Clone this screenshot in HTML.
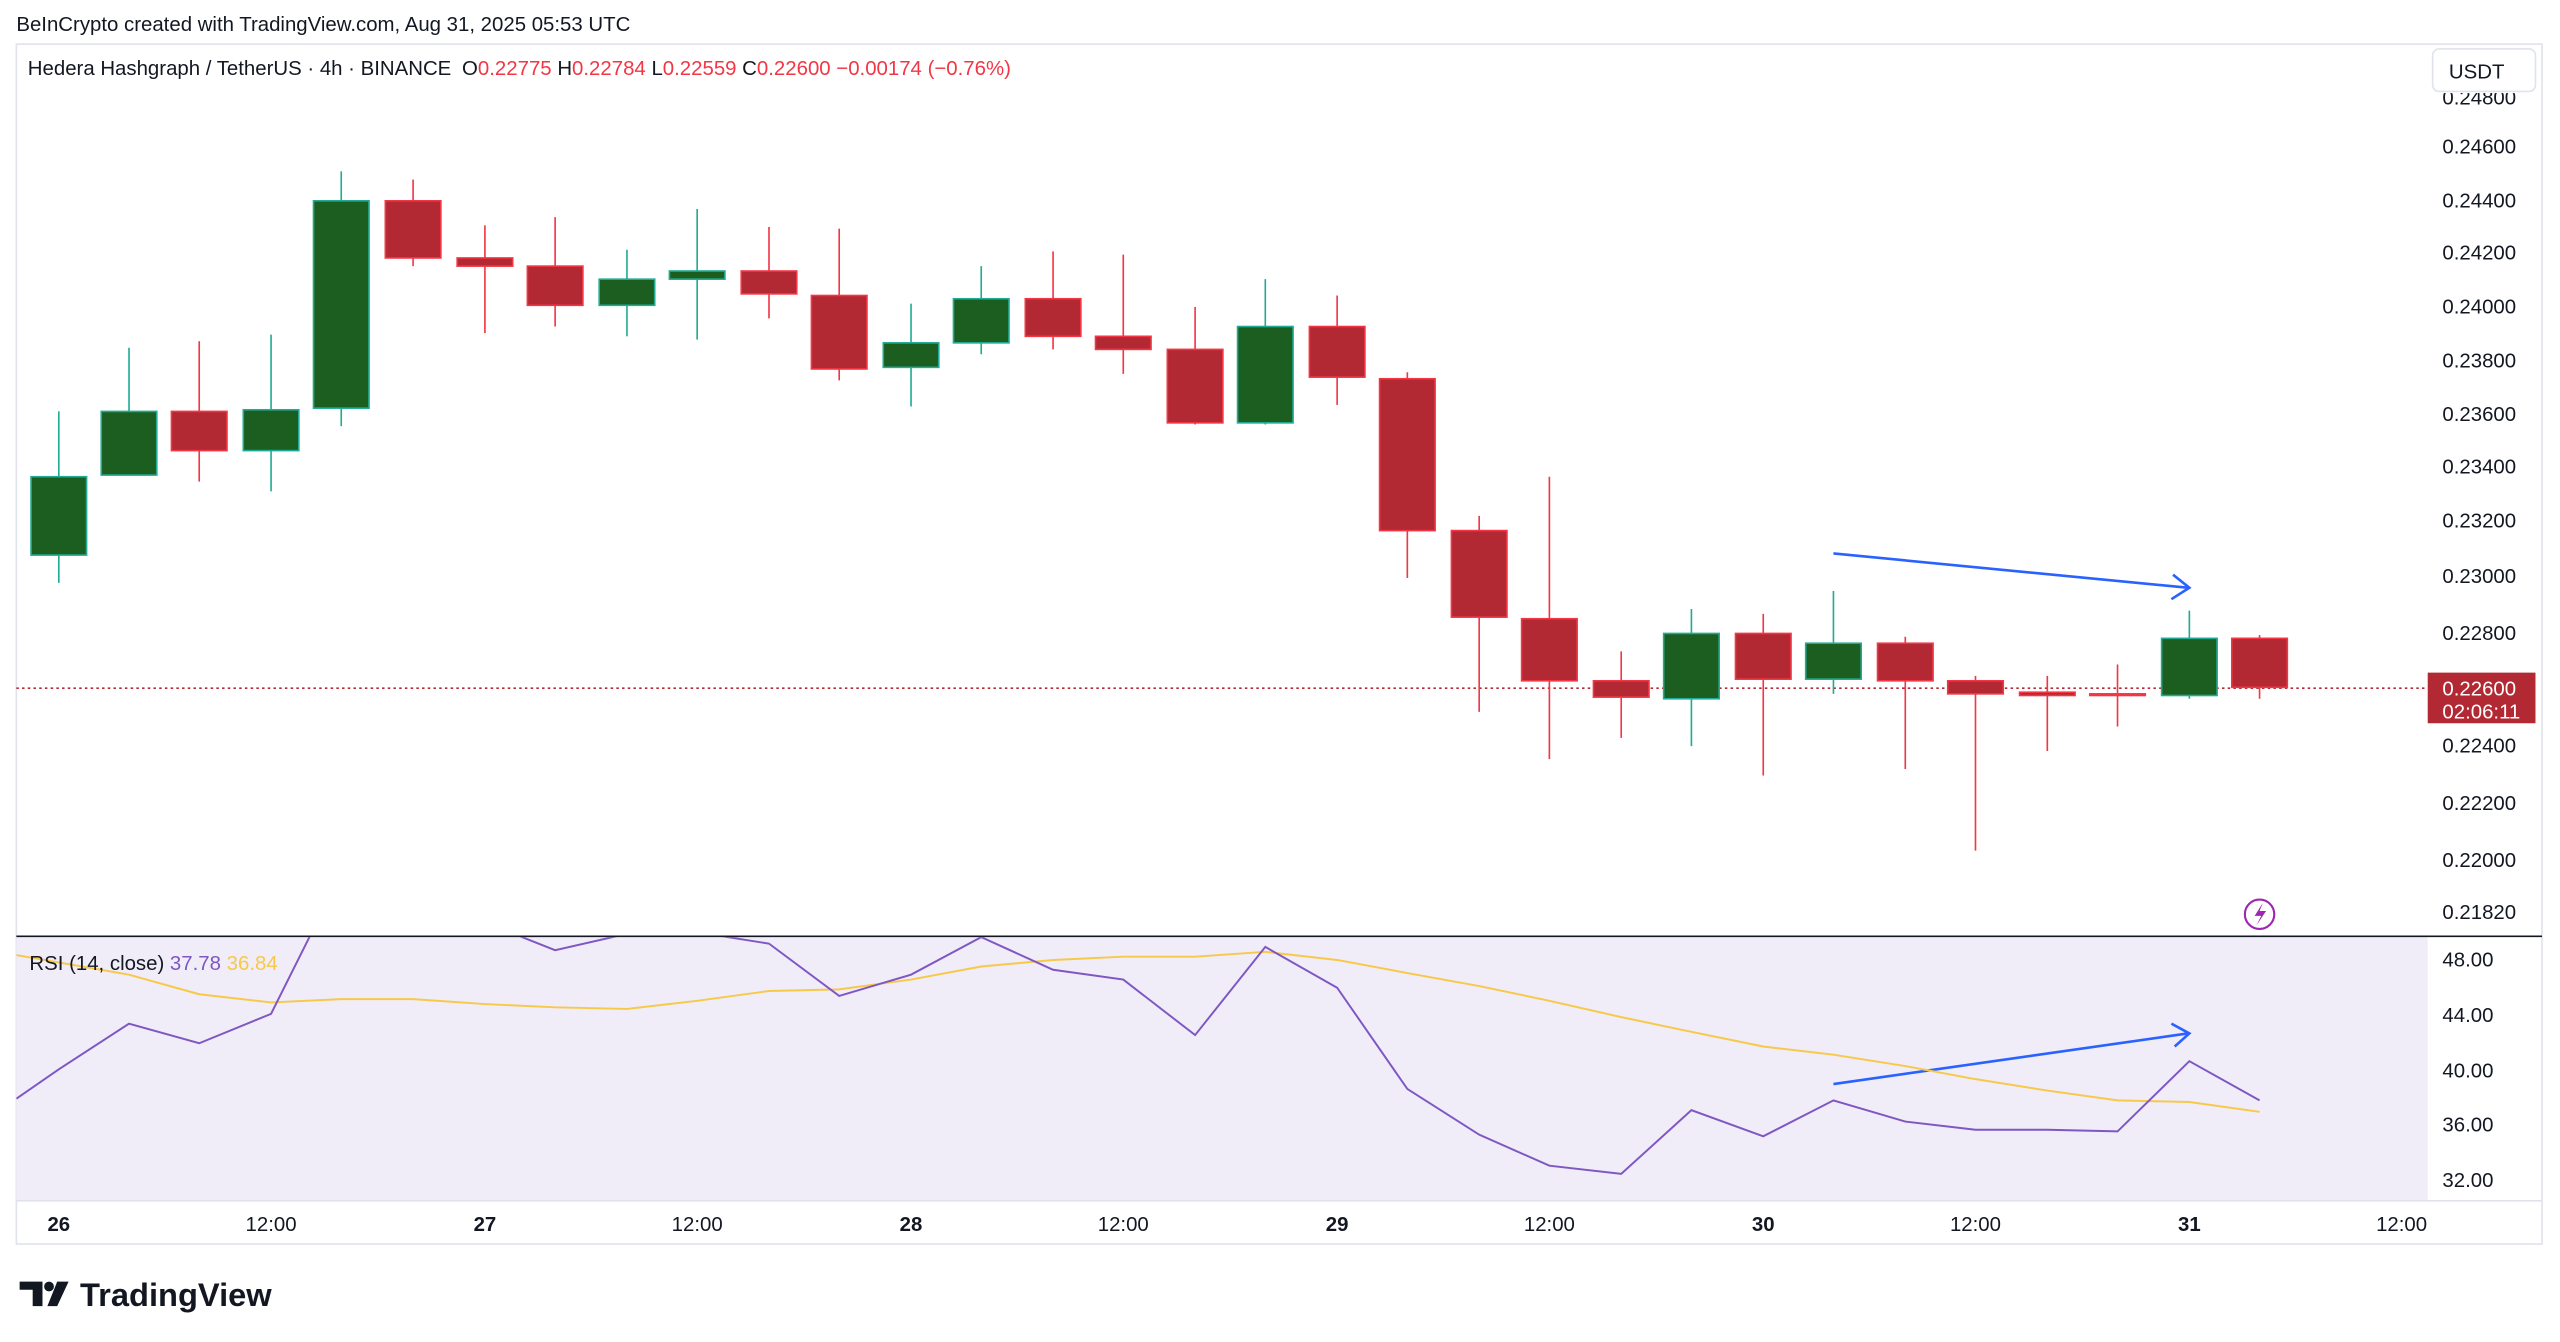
<!DOCTYPE html>
<html><head><meta charset="utf-8"><style>
html,body{margin:0;padding:0;background:#fff;width:2560px;height:1342px;overflow:hidden}
svg{display:block}
text{font-family:"Liberation Sans",sans-serif}
</style></head><body>
<svg width="2560" height="1342" viewBox="0 0 1568 822" xmlns="http://www.w3.org/2000/svg">
<rect width="1568" height="822" fill="#fff"/>
<text x="10" y="19" font-size="12.5" fill="#131722">BeInCrypto created with TradingView.com, Aug 31, 2025 05:53 UTC</text>
<rect x="10" y="27" width="1547" height="735" fill="#fff" stroke="#e0e3eb" stroke-width="1"/>
<rect x="10" y="574" width="1477" height="161" fill="#f0ecf8"/>
<line x1="10" y1="573.5" x2="1557" y2="573.5" stroke="#131722" stroke-width="1"/>
<line x1="10" y1="735.5" x2="1557" y2="735.5" stroke="#e0e3eb" stroke-width="1"/>
<text x="17" y="46" font-size="12.5" fill="#131722">Hedera Hashgraph / TetherUS · 4h · BINANCE</text>
<text x="283" y="46" font-size="12.5" fill="#131722">O<tspan fill="#f23645">0.22775</tspan>  H<tspan fill="#f23645">0.22784</tspan>  L<tspan fill="#f23645">0.22559</tspan>  C<tspan fill="#f23645">0.22600  −0.00174 (−0.76%)</tspan></text>
<g font-size="12.5" fill="#131722">
<text x="1496" y="64">0.24800</text>
</g>
<rect x="1488" y="28" width="68" height="29" fill="#fff"/>
<rect x="1490" y="30" width="63" height="26" rx="4" fill="#fff" stroke="#e0e3eb"/>
<text x="1500" y="48" font-size="12.5" fill="#131722">USDT</text>
<g font-size="12.5" fill="#131722">
<text x="1496" y="94">0.24600</text><text x="1496" y="127">0.24400</text><text x="1496" y="159">0.24200</text>
<text x="1496" y="192">0.24000</text><text x="1496" y="225">0.23800</text><text x="1496" y="258">0.23600</text>
<text x="1496" y="290">0.23400</text><text x="1496" y="323">0.23200</text><text x="1496" y="357">0.23000</text>
<text x="1496" y="392">0.22800</text><text x="1496" y="461">0.22400</text><text x="1496" y="496">0.22200</text>
<text x="1496" y="531">0.22000</text><text x="1496" y="563">0.21820</text>
<text x="1496" y="592">48.00</text><text x="1496" y="626">44.00</text><text x="1496" y="660">40.00</text>
<text x="1496" y="693">36.00</text><text x="1496" y="727">32.00</text>
</g>
<line x1="10" y1="421.5" x2="1487" y2="421.5" stroke="#b22833" stroke-width="1" stroke-dasharray="1.5,2"/>
<rect x="1487" y="412" width="66" height="31" fill="#b22833"/>
<text x="1496" y="426" font-size="12.5" fill="#fff">0.22600</text>
<text x="1496" y="440" font-size="12.5" fill="#fff">02:06:11</text>
<g stroke-width="1">
<g stroke="#22ab94"><line x1="36" y1="252" x2="36" y2="357"/><line x1="79" y1="213" x2="79" y2="291"/><line x1="166" y1="205" x2="166" y2="301"/><line x1="209" y1="105" x2="209" y2="261"/><line x1="384" y1="153" x2="384" y2="206"/><line x1="427" y1="128" x2="427" y2="208"/><line x1="558" y1="186" x2="558" y2="249"/><line x1="601" y1="163" x2="601" y2="217"/><line x1="775" y1="171" x2="775" y2="260"/><line x1="1036" y1="373" x2="1036" y2="457"/><line x1="1123" y1="362" x2="1123" y2="425"/><line x1="1341" y1="374" x2="1341" y2="428"/></g>
<g fill="#1b5e20" stroke="#22ab94"><rect x="19" y="292" width="34" height="48"/><rect x="62" y="252" width="34" height="39"/><rect x="149" y="251" width="34" height="25"/><rect x="192" y="123" width="34" height="127"/><rect x="367" y="171" width="34" height="16"/><rect x="410" y="166" width="34" height="5"/><rect x="541" y="210" width="34" height="15"/><rect x="584" y="183" width="34" height="27"/><rect x="758" y="200" width="34" height="59"/><rect x="1019" y="388" width="34" height="40"/><rect x="1106" y="394" width="34" height="22"/><rect x="1324" y="391" width="34" height="35"/></g>
<g stroke="#f23645"><line x1="122" y1="209" x2="122" y2="295"/><line x1="253" y1="110" x2="253" y2="163"/><line x1="297" y1="138" x2="297" y2="204"/><line x1="340" y1="133" x2="340" y2="200"/><line x1="471" y1="139" x2="471" y2="195"/><line x1="514" y1="140" x2="514" y2="233"/><line x1="645" y1="154" x2="645" y2="214"/><line x1="688" y1="156" x2="688" y2="229"/><line x1="732" y1="188" x2="732" y2="260"/><line x1="819" y1="181" x2="819" y2="248"/><line x1="862" y1="228" x2="862" y2="354"/><line x1="906" y1="316" x2="906" y2="436"/><line x1="949" y1="292" x2="949" y2="465"/><line x1="993" y1="399" x2="993" y2="452"/><line x1="1080" y1="376" x2="1080" y2="475"/><line x1="1167" y1="390" x2="1167" y2="471"/><line x1="1210" y1="414" x2="1210" y2="521"/><line x1="1254" y1="414" x2="1254" y2="460"/><line x1="1297" y1="407" x2="1297" y2="445"/><line x1="1384" y1="389" x2="1384" y2="428"/></g>
<g fill="#b22833" stroke="#f23645"><rect x="105" y="252" width="34" height="24"/><rect x="236" y="123" width="34" height="35"/><rect x="280" y="158" width="34" height="5"/><rect x="323" y="163" width="34" height="24"/><rect x="454" y="166" width="34" height="14"/><rect x="497" y="181" width="34" height="45"/><rect x="628" y="183" width="34" height="23"/><rect x="671" y="206" width="34" height="8"/><rect x="715" y="214" width="34" height="45"/><rect x="802" y="200" width="34" height="31"/><rect x="845" y="232" width="34" height="93"/><rect x="889" y="325" width="34" height="53"/><rect x="932" y="379" width="34" height="38"/><rect x="976" y="417" width="34" height="10"/><rect x="1063" y="388" width="34" height="28"/><rect x="1150" y="394" width="34" height="23"/><rect x="1193" y="417" width="34" height="8"/><rect x="1237" y="424" width="34" height="2"/><rect x="1280" y="425" width="34" height="1"/><rect x="1367" y="391" width="34" height="30"/></g>
</g>
<g stroke="#2962ff" stroke-width="1.6" fill="none">
<line x1="1123" y1="339" x2="1340" y2="360"/><polyline points="1331,352 1341,360 1330,367"/>
<line x1="1123" y1="664" x2="1340" y2="633"/><polyline points="1330,627 1341,633 1332,641"/>
</g>
<circle cx="1384" cy="560" r="9" fill="none" stroke="#9c27b0" stroke-width="1.3"/>
<path d="M1386,553 L1381,561 L1385,561 L1382,567 L1388,558 L1384,558 Z" fill="#9c27b0"/>
<svg x="10" y="574" width="1477" height="161" viewBox="10 574 1477 161" overflow="hidden">
<polyline fill="none" stroke="#f7c948" stroke-width="1.2" points="10,585 79,597 122,609 166,614 209,612 253,612 297,615 340,617 384,618 427,613 471,607 514,606 558,600 601,592 645,588 688,586 732,586 775,583 819,588 862,596 906,604 949,613 993,623 1036,632 1080,641 1123,646 1167,653 1210,661 1254,668 1297,674 1341,675 1384,681"/>
<polyline fill="none" stroke="#7e57c2" stroke-width="1.2" points="10,673 36,655 79,627 122,639 166,621 190,573 209,560 253,560 297,565 340,582 384,572 427,571 471,578 514,610 558,597 601,574 645,594 688,600 732,634 775,580 819,605 862,667 906,695 949,714 993,719 1036,680 1080,696 1123,674 1167,687 1210,692 1254,692 1297,693 1341,650 1384,674"/>
</svg>
<text x="18" y="594" font-size="12.5" fill="#131722">RSI (14, close) <tspan fill="#7e57c2">37.78</tspan> <tspan fill="#f7c948">36.84</tspan></text>
<g font-size="12.5" fill="#131722" text-anchor="middle">
<text x="36" y="754" font-weight="bold">26</text><text x="166" y="754">12:00</text>
<text x="297" y="754" font-weight="bold">27</text><text x="427" y="754">12:00</text>
<text x="558" y="754" font-weight="bold">28</text><text x="688" y="754">12:00</text>
<text x="819" y="754" font-weight="bold">29</text><text x="949" y="754">12:00</text>
<text x="1080" y="754" font-weight="bold">30</text><text x="1210" y="754">12:00</text>
<text x="1341" y="754" font-weight="bold">31</text><text x="1471" y="754">12:00</text>
</g>
<g fill="#131722">
<path d="M12,785 h14 v15 h-6 v-10 h-8 z"/><circle cx="30" cy="788" r="3"/><path d="M35,785 h7 l-7,15 h-6 z"/>
</g>
<text x="49" y="800" font-size="20" font-weight="bold" fill="#131722">TradingView</text>
</svg>
</body></html>
